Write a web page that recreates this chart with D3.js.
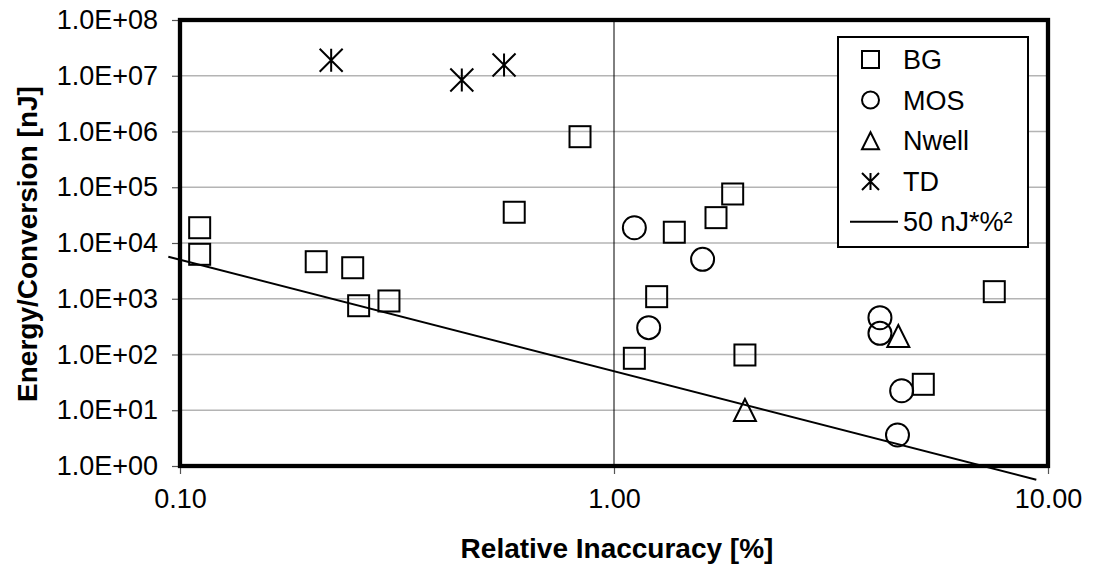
<!DOCTYPE html>
<html><head><meta charset="utf-8">
<script src="https://cdn.jsdelivr.net/npm/d3@7"></script>
<style>body{margin:0;background:#fff}svg{display:block}text{font-family:"Liberation Sans",Arial,sans-serif;fill:#000}</style>
</head><body><svg id="c" width="1094" height="573"></svg>
<script>
const bgX = [0.111, 0.111, 0.206, 0.250, 0.258, 0.303, 0.589, 0.835, 1.114, 1.254, 1.377, 1.718, 1.877, 2.003, 5.16, 7.52];
const bgY = [18800, 6270, 4620, 3600, 750, 912, 35600, 807000, 85.5, 1090, 15600, 28500, 75700, 98, 29.2, 1340];
const mosX = [1.114, 1.202, 1.60, 4.10, 4.10, 4.60, 4.50];
const mosY = [18800, 303, 5100, 457, 240, 22.4, 3.6];
const nwellX = [2.003, 4.52];
const nwellY = [10.1, 215];
const tdX = [0.223, 0.446, 0.558];
const tdY = [1.9e7, 8.4e6, 1.56e7];
const lineX = [0.094, 9.4];
const lineY = [5659, 0.566];
const xTicks = [0.1, 1, 10];
const xTickLabels = ["0.10", "1.00", "10.00"];
const yTicks = [1, 10, 100, 1e3, 1e4, 1e5, 1e6, 1e7, 1e8];
const yTickLabels = ["1.0E+00","1.0E+01","1.0E+02","1.0E+03","1.0E+04","1.0E+05","1.0E+06","1.0E+07","1.0E+08"];
const legendLabels = ["BG", "MOS", "Nwell", "TD", "50 nJ*%\u00B2"];

const L = 180, R = 1048, T = 20, B = 466;
const svg = d3.select("#c");
const x = d3.scaleLog().domain([0.1, 10]).range([L, R]);
const y = d3.scaleLog().domain([1, 1e8]).range([B, T]);

// gridlines
svg.append("g").selectAll("line").data(yTicks.slice(1, -1)).join("line")
  .attr("x1", L).attr("x2", R).attr("y1", d => y(d)).attr("y2", d => y(d))
  .attr("stroke", "#b4b4b4").attr("stroke-width", 1.3);
svg.append("line").attr("x1", x(1)).attr("x2", x(1)).attr("y1", T).attr("y2", B)
  .attr("stroke", "#000").attr("stroke-width", 1);

// axes
const yAxis = svg.append("g").attr("transform", `translate(${L},0)`)
  .call(d3.axisLeft(y).tickValues(yTicks).tickFormat((d, i) => yTickLabels[i]).tickSize(8).tickPadding(14));
const xAxis = svg.append("g").attr("transform", `translate(0,${B})`)
  .call(d3.axisBottom(x).tickValues(xTicks).tickFormat((d, i) => xTickLabels[i]).tickSize(8).tickPadding(15));
[yAxis, xAxis].forEach(a => {
  a.select(".domain").remove();
  a.selectAll(".tick line").attr("stroke", "#555").attr("stroke-width", 1.2);
  a.selectAll(".tick text").style("font-size", "27px").attr("fill", "#000").style("font-family", '"Liberation Sans",Arial,sans-serif');
});

// plot border
svg.append("rect").attr("x", L).attr("y", T).attr("width", R - L).attr("height", B - T)
  .attr("fill", "none").attr("stroke", "#000").attr("stroke-width", 4.3);

// line series
svg.append("path").datum(lineX.map((d, i) => [d, lineY[i]]))
  .attr("d", d3.line().x(d => x(d[0])).y(d => y(d[1])))
  .attr("fill", "none").attr("stroke", "#000").attr("stroke-width", 2);

// marker drawers
function square(g, cx, cy, s) {
  g.append("rect").attr("x", cx - s / 2).attr("y", cy - s / 2).attr("width", s).attr("height", s)
    .attr("fill", "none").attr("stroke", "#000").attr("stroke-width", 2);
}
function circle(g, cx, cy, s) {
  g.append("circle").attr("cx", cx).attr("cy", cy).attr("r", s / 2)
    .attr("fill", "none").attr("stroke", "#000").attr("stroke-width", 2);
}
function tri(g, cx, cy, s) {
  g.append("path").attr("d", `M${cx},${cy - s / 2}L${cx + s / 2},${cy + s / 2}L${cx - s / 2},${cy + s / 2}Z`)
    .attr("fill", "none").attr("stroke", "#000").attr("stroke-width", 2);
}
function star(g, cx, cy, s) {
  const h = s / 2;
  g.append("path").attr("d", `M${cx - h},${cy - h}L${cx + h},${cy + h}M${cx + h},${cy - h}L${cx - h},${cy + h}M${cx},${cy - h}L${cx},${cy + h}`)
    .attr("fill", "none").attr("stroke", "#000").attr("stroke-width", 2);
}
const mg = svg.append("g");
bgX.forEach((d, i) => square(mg, x(d), y(bgY[i]), 21));
mosX.forEach((d, i) => circle(mg, x(d), y(mosY[i]), 23));
nwellX.forEach((d, i) => tri(mg, x(d), y(nwellY[i]), 22));
tdX.forEach((d, i) => star(mg, x(d), y(tdY[i]), 23));

// legend
const lg = svg.append("g");
lg.append("rect").attr("x", 838).attr("y", 37).attr("width", 190).attr("height", 210)
  .attr("fill", "#fff").attr("stroke", "#000").attr("stroke-width", 2);
const rowY = [59.5, 100, 140.7, 181.5, 221.7];
const drawers = [square, circle, tri, star];
drawers.forEach((f, i) => f(lg, 870.5, rowY[i], 17));
lg.append("line").attr("x1", 850).attr("x2", 898).attr("y1", rowY[4]).attr("y2", rowY[4])
  .attr("stroke", "#000").attr("stroke-width", 2);
lg.selectAll("text.l").data(legendLabels).join("text").attr("class", "l")
  .attr("x", 903).attr("y", (d, i) => rowY[i]).attr("dy", "0.36em")
  .style("font-size", "27px").text(d => d);

// titles
svg.append("text").attr("x", 617).attr("y", 548).attr("dy", "0.36em").attr("text-anchor", "middle")
  .style("font-size", "28px").style("font-weight", "bold").text("Relative Inaccuracy [%]");
svg.append("text").attr("transform", "translate(27,244) rotate(-90)").attr("dy", "0.36em").attr("text-anchor", "middle")
  .style("font-size", "28px").style("font-weight", "bold").text("Energy/Conversion [nJ]");
</script></body></html>
